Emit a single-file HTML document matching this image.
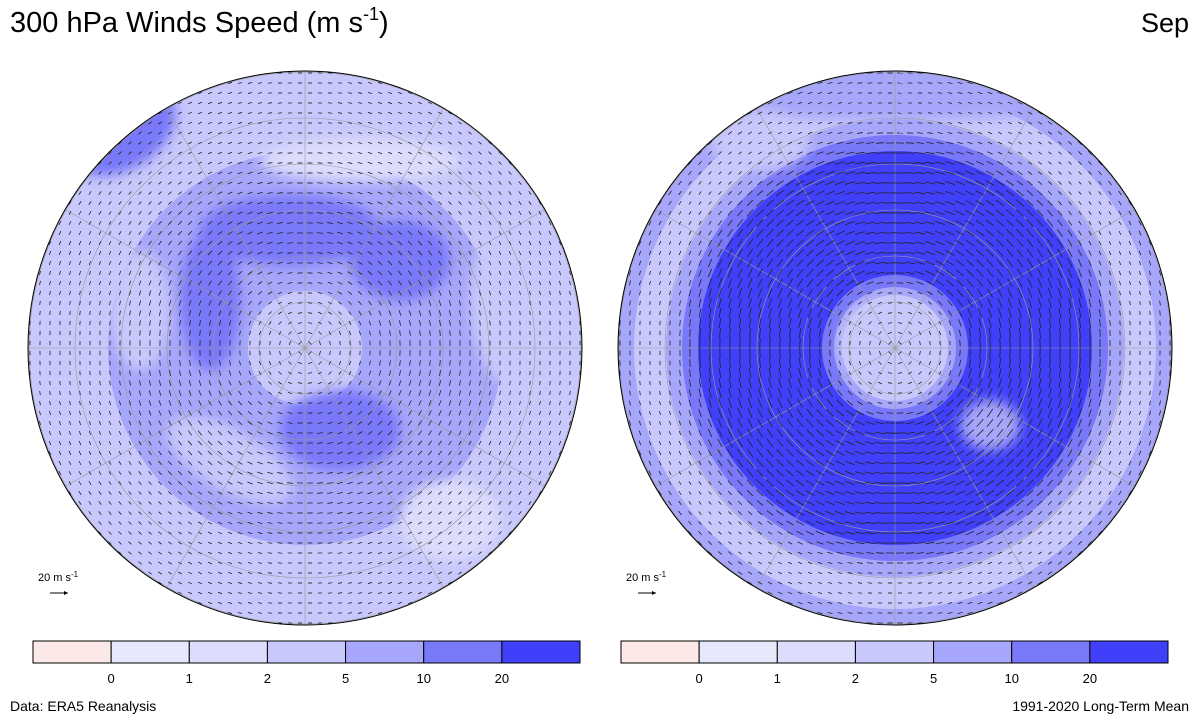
<!DOCTYPE html>
<html><head><meta charset="utf-8"><style>
body{margin:0;background:#fff;font-family:"Liberation Sans",sans-serif}
svg{display:block}
</style></head><body>
<svg id="chart" width="1200" height="720">
<defs>
<clipPath id="cl"><circle cx="305" cy="348" r="277"/></clipPath>
<clipPath id="cr"><circle cx="895" cy="348" r="277"/></clipPath>
<filter id="bl"><feGaussianBlur stdDeviation="6"/></filter>
</defs>
<text x="10" y="32" font-size="29">300 hPa Winds Speed (m s<tspan dy="-12" font-size="18">-1</tspan><tspan dy="12">)</tspan></text>
<text x="1189" y="32" font-size="27" text-anchor="end">Sep</text>
<g id="left" clip-path="url(#cl)"></g>
<g id="right" clip-path="url(#cr)"></g>
<circle cx="305" cy="348" r="277" fill="none" stroke="#000" stroke-width="1"/>
<circle cx="895" cy="348" r="277" fill="none" stroke="#000" stroke-width="1"/>
<g><text x="38" y="581" font-size="11">20 m s<tspan dy="-4" font-size="8">-1</tspan></text><line x1="50" y1="593" x2="68" y2="593" stroke="#000"/><path d="M68 593l-4-2v4z"/></g>
<g><text x="626" y="581" font-size="11">20 m s<tspan dy="-4" font-size="8">-1</tspan></text><line x1="638" y1="593" x2="656" y2="593" stroke="#000"/><path d="M656 593l-4-2v4z"/></g>
<g id="cbars"></g>
<text x="10" y="711" font-size="14">Data: ERA5 Reanalysis</text>
<text x="1189" y="711" font-size="14" text-anchor="end">1991-2020 Long-Term Mean</text>
</svg>
<script>
const levels=["0","1","2","5","10","20"];
const colors=["#fde8e8","#e8e8fd","#dcdcfd","#c8c8fc","#a6a6fb","#7878f9","#4040fb"];
// ring speeds (m/s) at radius fraction 0..1 step 0.1
const leftSpeeds=[4,4,4.5,8,9,9.5,8,5.5,3.5,4,4];
const rightSpeeds=[4,4,4,25,30,32,30,24,6,2.5,8];
const NS="http://www.w3.org/2000/svg";
function mk(t,a,p){const e=document.createElementNS(NS,t);for(const k in a)e.setAttribute(k,a[k]);p.appendChild(e);return e;}
function bin(v){const th=[0,1,2,5,10,20];let i=0;while(i<th.length&&v>=th[i])i++;return i;}
function speedAt(arr,f){f=Math.min(1,Math.max(0,f))*10;const i=Math.floor(f),j=Math.min(10,i+1),t=f-i;return arr[i]*(1-t)+arr[j]*t;}
function drawMap(gid,cx,cy,speeds,dir,blobs){
 const g=document.getElementById(gid);
 for(let r=277;r>0;r-=4){mk('circle',{cx:cx,cy:cy,r:r,fill:colors[bin(speedAt(speeds,r/277))]},g);}
 const bg=mk('g',{filter:'url(#bl)'},g);
 blobs.forEach(b=>mk('ellipse',{cx:b[0],cy:b[1],rx:b[2],ry:b[3],fill:colors[b[4]],transform:`rotate(${b[5]||0} ${b[0]} ${b[1]})`},bg));
 for(let k=1;k<=6;k++)mk('circle',{cx:cx,cy:cy,r:k*46,fill:'none',stroke:'#999','stroke-width':0.6},g);
 for(let a=0;a<360;a+=30){const t=a*Math.PI/180;mk('line',{x1:cx,y1:cy,x2:cx+280*Math.cos(t),y2:cy+280*Math.sin(t),stroke:'#999','stroke-width':0.6},g);}
 const ag=mk('g',{stroke:'#222','stroke-width':0.8,fill:'#222'},g);
 for(let y=cy-275;y<=cy+275;y+=10)for(let x=cx-275;x<=cx+275;x+=10){
  const dx=x-cx,dy=y-cy,r=Math.hypot(dx,dy);if(r>277||r<3)continue;
  const s=speedAt(speeds,r/277),L=Math.min(10,3+s*0.3);
  const ux=-dy/r*dir,uy=dx/r*dir;
  const l=mk('line',{x1:x-ux*L/2,y1:y-uy*L/2,x2:x+ux*L/2,y2:y+uy*L/2},ag);
  
  
 }
}
drawMap('left',305,348,leftSpeeds,-1,[
 [120,130,60,40,5,-30],[290,230,90,35,5,0],[400,260,50,40,5,0],[340,430,60,40,5,0],[210,300,30,70,5,0],
 [230,460,70,30,3,30],[140,310,30,60,3,0],[520,300,50,90,3,0],[160,570,100,40,3,0],[490,520,70,50,3,0],
 [360,160,100,22,2,0],[450,520,50,40,2,0],[305,345,50,50,3,0]]);
drawMap('right',895,348,rightSpeeds,1,[
 [895,100,180,20,4,0],[760,140,50,30,3,0],[990,425,30,25,4,0],[885,340,45,40,3,0]]);
const cb=document.getElementById('cbars');
[[33,580],[621,1168]].forEach((p,pi)=>{
 const w=(p[1]-p[0])/7;
 colors.forEach((c,i)=>{const r=mk('rect',{x:p[0]+i*w,y:641,width:w,height:22,fill:c,stroke:'#000','stroke-width':1},cb);
  
  });
 levels.forEach((l,i)=>{const t=mk('text',{x:p[0]+(i+1)*w,y:683,'font-size':13,'text-anchor':'middle'},cb);t.textContent=l;
  
  });
});
</script>
</body></html>
